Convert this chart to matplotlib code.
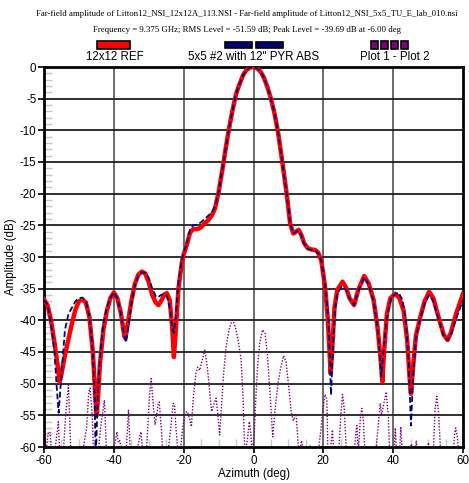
import matplotlib
matplotlib.use("Agg")
import matplotlib.pyplot as plt
from matplotlib.patches import Rectangle
from matplotlib.ticker import MultipleLocator

# ---------------- data ----------------
ref_az = [-60, -59, -58, -57, -56, -55.5, -55, -54, -53, -52, -51, -50, -49, -48, -47, -46,
          -45.2, -44.9, -44.5, -44, -43, -42, -41, -40, -39, -38, -37, -36.7, -36, -35, -34,
          -33, -32, -31, -30, -29, -28, -27.2, -26.5, -25.5, -24.8, -24, -23.3, -22.8, -22.3,
          -21.5, -20.5, -20, -19, -18.2, -17.3, -16, -15, -14, -13, -12, -11, -10, -9, -8,
          -7, -6, -5, -4.4, -3, -2, -1, 0, 1, 2, 3, 4, 5, 6, 7, 8, 9, 9.5, 10, 10.5, 11.4,
          12.2, 12.9, 13.7, 14.5, 15.5, 16.5, 17.7, 18.5, 19.4, 20.5, 21.3, 22.1, 22.6, 23.2,
          24, 25.5, 26.5, 27.5, 28.8, 30, 31.7, 33, 34.4, 35.5, 36.4, 36.9, 37.4, 38.2, 39.2,
          40.6, 41.8, 43, 44, 44.7, 45.1, 45.6, 46.5, 47.7, 49, 50.3, 51.5, 53, 54.5, 55.6,
          56.5, 58, 60]
ref_db = [-36.7, -37.6, -40, -43.5, -47.5, -49.8, -48.5, -45.5, -43, -40.5, -38.3, -37, -36.7,
          -37.2, -39.5, -45, -53, -55, -52, -47, -41.5, -38.5, -36.5, -35.6, -36.5, -38.8,
          -42.5, -42.8, -40.5, -37, -34.3, -32.8, -32.3, -32.6, -34, -36, -37.2, -37.6, -37,
          -35.9, -35.7, -36.8, -41, -45.8, -42, -35, -30.8, -29.6, -27.9, -26.2, -25.6, -25.6,
          -25.3, -24.7, -24.2, -23.5, -22.3, -19.8, -16.5, -13.0, -9.7, -6.8, -4.3, -3.3, -1.3,
          -0.45, -0.08, 0, -0.2, -0.7, -1.7, -3.2, -5, -7.3, -10.2, -14, -18, -20, -22.3,
          -24.7, -26.3, -26, -25.7, -26.5, -27.8, -28.6, -28.8, -28.9, -29.3, -30.5, -34.7,
          -40, -48.4, -44, -38, -35.2, -33.9, -34.8, -36.5, -37.6, -35.2, -33.0, -34.2, -36.8,
          -41, -46, -49.7, -45, -39, -36.5, -35.8, -36.5, -38.5, -43, -49, -51.6, -48, -42.5,
          -39.6, -37, -35.5, -36.5, -39.5, -42.3, -43.1, -42, -39, -35.8]

pyr_az = [-60, -59, -58, -57, -56.3, -55.8, -55.2, -54.5, -54, -53, -52, -51, -50, -49, -48,
          -47, -46, -45.5, -45.2, -44.6, -44, -43, -42, -41, -40, -39, -38, -37, -36.5, -36,
          -35, -34, -33, -32, -31, -30, -29, -28, -27.5, -26.5, -25.5, -24.8, -24, -23.3,
          -22.8, -22.3, -21.5, -20.5, -20, -19, -18.2, -17.3, -16, -15, -14, -13, -12, -11,
          -10, -9, -8, -7, -6, -5, -4.4, -3, -2, -1, 0, 1, 2, 3, 4, 5, 6, 7, 8, 9, 9.5, 10,
          10.5, 11.4, 12.2, 12.9, 13.7, 14.5, 15.5, 16.5, 17.7, 18.5, 19.4, 20.5, 21.5, 22.2,
          22.7, 23.3, 24, 25.3, 26.5, 27.5, 28.8, 30, 31.7, 33, 34.4, 35.5, 36.1, 36.6, 37.2,
          38.2, 39.5, 41.5, 42.7, 43.6, 44.4, 45.1, 45.7, 46.5, 47.7, 49, 50.3, 51.5, 53,
          54.5, 55.6, 56.7, 58, 60]
pyr_db = [-36.8, -37.5, -40.5, -45, -51, -54.6, -50, -45, -41.5, -39, -38, -37, -36.5, -36.4,
          -37, -39.5, -45, -52, -62, -52, -46, -40.5, -38, -36.5, -35.6, -36.5, -39, -42.5,
          -43.5, -41.5, -37.5, -34.5, -33, -32.4, -32.5, -33.3, -35, -36.2, -36.4, -36,
          -35.8, -36.2, -38, -41, -42, -39.5, -34, -30.3, -29.4, -27.6, -25.7, -25.0, -24.9,
          -24.5, -24.0, -23.5, -23.0, -22.0, -19.7, -16.4, -13.0, -9.7, -6.8, -4.3, -3.3, -1.3,
          -0.45, -0.08, 0, -0.2, -0.7, -1.7, -3.2, -5, -7.3, -10.2, -14, -18, -20, -22.3,
          -24.7, -26.3, -26, -25.8, -26.6, -27.9, -28.7, -28.9, -29.0, -29.4, -30.6, -34.5,
          -40, -51.8, -45, -38.5, -35.8, -34.6, -35.2, -36.6, -37.6, -35.4, -33.2, -34.4,
          -37, -41, -45, -48.9, -45, -39.5, -36.3, -35.6, -36.8, -40, -46, -56.6, -49, -42.8,
          -39.8, -37.3, -36, -37, -39.8, -42.5, -43.1, -42, -39.8, -36.8]

diff_az = [-60, -59.5, -58.8, -58.3, -57.8, -57, -56.3, -55.9, -55.5, -54.5, -53.8, -53, -52.3,
           -51, -49, -47.8, -47.2, -46.8, -46.2, -45.8, -44.5, -43.8, -43.3, -42.7, -42.1,
           -40.5, -39.5, -39.1, -38.7, -38.3, -37.5, -36.5, -35.8, -35.3, -33.5, -32.8, -32.2,
           -31.7, -30.7, -29.8, -29.3, -28.7, -28.2, -27.9, -27.3, -27, -26.4, -26, -24.5,
           -23.7, -23, -22.6, -22.2, -21.6, -21.0, -20.3, -19.6, -19.0, -18.4, -17.8, -17.2,
           -16.5, -16.0, -15.4, -14.8, -13.9, -13.2, -12.5, -12.0, -11.2, -10.7, -10.2, -9.7,
           -9.2, -8.5, -7.8, -7, -6, -5, -4.2, -3.6, -3.0, -2.5, -1.8, -1.2, -0.8, -0.4, 0.2,
           0.7, 1.2, 1.8, 2.6, 3.3, 4.0, 4.8, 5.5, 6.2, 7.0, 7.8, 8.6, 9.3, 10.0, 10.8, 11.4,
           12.2, 12.6, 13.0, 13.8, 14.3, 15.5, 16.2, 16.8, 18.5, 19.3, 19.9, 20.5, 21.0, 21.3,
           21.9, 22.6, 23.0, 24.4, 25.0, 25.5, 26.0, 26.6, 28.8, 29.3, 29.6, 30.0, 30.6, 31.0,
           31.5, 31.9, 35.0, 35.6, 36.3, 36.7, 37.2, 38.0, 38.6, 39.0, 40.2, 40.6, 41.0, 41.8,
           42.2, 42.6, 44.8, 45.2, 45.6, 46.3, 46.6, 47.0, 49.7, 50.1, 50.5, 51.5, 52.0, 52.5,
           53.0, 53.6, 57.2, 57.6, 57.9, 58.4, 58.8, 60]
diff_db = [-61, -61, -57.8, -57.6, -61, -61, -58, -56, -61, -61, -55, -50.2, -61,
           -61, -61, -57, -51.5, -50.7, -55, -61, -61, -57, -55, -52.6, -61,
           -61, -59, -57.6, -59.3, -59, -61, -61, -54.1, -61, -61, -59, -57.6,
           -61, -61, -52, -49.2, -53.5, -56.5, -55.5, -53.2, -52.9, -57, -61, -61,
           -57, -53.1, -53.5, -57, -61, -61, -57, -54.6, -54.4, -55.3, -56.8, -52,
           -48.4, -47.4, -47.9, -46.5, -44.7, -47.5, -51.5, -54.4, -53, -52.3, -55, -58.1,
           -54, -48, -44, -41.5, -39.7, -41.5, -43.8, -46, -52, -61, -59, -56, -57.5, -61, -58,
           -52, -47, -43.5, -41.5, -42, -45.5, -52, -58.4, -54, -50, -47.5, -45.6, -46.5, -50, -54.5, -55.8,
           -54.8, -58, -61, -59, -61, -61, -59.8, -61, -61, -57.3, -54, -51.7, -52.5, -61,
           -61, -57.3, -61, -61, -55, -51.7, -54, -61, -61, -58, -56.6, -61, -55.5, -53.9,
           -56, -61, -61, -57.3, -53.1, -55, -53.5, -51.3, -55, -61, -61, -57, -61, -61,
           -56.8, -61, -61, -59.5, -61, -61, -59, -61, -61, -59.3, -61, -61, -54, -52,
           -54.5, -61, -61, -58, -57, -58.5, -61, -61]

title1 = "Far-field amplitude of Litton12_NSI_12x12A_113.NSI - Far-field amplitude of Litton12_NSI_5x5_TU_E_lab_010.nsi"
title2 = "Frequency = 9.375 GHz; RMS Level = -51.59 dB; Peak Level = -39.69 dB at -6.00 deg"
labels = ["12x12 REF", "5x5 #2 with 12\" PYR ABS", "Plot 1 - Plot 2"]
xticks = [-60, -40, -20, 0, 20, 40, 60]
yticks = list(range(0, -61, -5))

# ---------------- figure ----------------
W, H = 469, 483
fig = plt.figure(figsize=(W / 100, H / 100), dpi=100)
fig.patch.set_facecolor("white")
ax = fig.add_axes([44 / W, (H - 447) / H, 419 / W, 380 / H])

sans = "Liberation Sans"
serif = "Liberation Serif"

ax.plot(ref_az, ref_db, color="#ff0000", lw=3.2, solid_joinstyle="round", zorder=3)
ax.plot(pyr_az, pyr_db, color="#000080", lw=1.3, ls=(0, (3.2, 1.6)), zorder=4)
ax.plot(diff_az, diff_db, color="#800080", lw=1.0, ls=(0, (1, 1.2)), zorder=2)

ax.set_xlim(-60, 60)
ax.set_ylim(-60, 0)
ax.set_xticks(xticks)
ax.set_yticks(yticks)
ax.set_xticklabels([str(v) for v in xticks], fontfamily=sans, fontsize=8.3)
ax.set_yticklabels([str(v) for v in yticks], fontfamily=sans, fontsize=8.3)
ax.tick_params(axis="both", which="major", direction="out", length=4, width=1.2,
               color="black", pad=1.5)
ax.xaxis.set_minor_locator(MultipleLocator(5))
ax.yaxis.set_minor_locator(MultipleLocator(1))
ax.tick_params(axis="both", which="minor", direction="in", length=6, width=1.0,
               color="#c8c8c8")
ax.tick_params(axis="both", which="minor", top=False, right=False)

for v in xticks[1:-1]:
    ax.axvline(v, color="#606060", lw=1.3, zorder=1)
for v in yticks[1:-1]:
    ax.axhline(v, color="#202020", lw=1.3, zorder=1)

for s in ax.spines.values():
    s.set_linewidth(2.0)
    s.set_color("black")

ax.set_xlabel("Azimuth (deg)", fontfamily=sans, fontsize=8.3, labelpad=1)
ax.set_ylabel("Amplitude (dB)", fontfamily=sans, fontsize=8.3, labelpad=2)

# titles
fig.text(247 / W, 1 - 13.5 / H, title1, fontfamily=serif, fontsize=6.3,
         ha="center", va="center")
fig.text(247 / W, 1 - 29.5 / H, title2, fontfamily=serif, fontsize=6.3,
         ha="center", va="center")

# legend
def rect(x0, y0, x1, y1, fc):
    fig.add_artist(Rectangle((x0 / W, 1 - y1 / H), (x1 - x0) / W, (y1 - y0) / H,
                             transform=fig.transFigure, facecolor=fc,
                             edgecolor="black", lw=1.2))

rect(97, 40.5, 130, 48.5, "#ff0000")
rect(225, 42, 251.5, 47.5, "#000080")
rect(256, 42, 282.5, 47.5, "#000080")
for x0 in [371, 381, 391, 401]:
    rect(x0, 40.5, x0 + 7, 48.5, "#800080")

fig.text(115 / W, 1 - 57.5 / H, labels[0], fontfamily=sans, fontsize=8.3,
         ha="center", va="center")
fig.text(254 / W, 1 - 57.5 / H, labels[1], fontfamily=sans, fontsize=8.3,
         ha="center", va="center")
fig.text(395 / W, 1 - 57.5 / H, labels[2], fontfamily=sans, fontsize=8.3,
         ha="center", va="center")

fig.savefig("out.png", dpi=100, facecolor="white")
